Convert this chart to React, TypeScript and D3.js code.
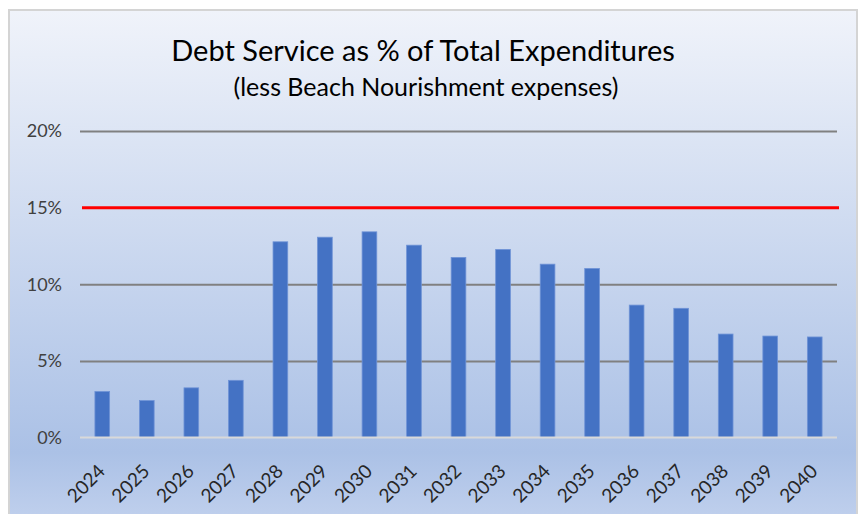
import React, { useEffect, useRef } from 'react'
import { select, scaleLinear, scaleBand, axisLeft, axisBottom } from 'd3'

const years = ['2024', '2025', '2026', '2027', '2028', '2029', '2030', '2031', '2032',
  '2033', '2034', '2035', '2036', '2037', '2038', '2039', '2040']
const debtPct = [3.0, 2.41, 3.24, 3.73, 12.77, 13.07, 13.42, 12.55, 11.75,
  12.27, 11.31, 11.03, 8.64, 8.43, 6.75, 6.62, 6.56]
const yTicks = [0, 5, 10, 15, 20]
const limitPct = 15

const font = 'Lato, "Open Sans", sans-serif'

function App() {
  const ref = useRef<SVGSVGElement>(null)

  useEffect(() => {
    const W = 862, H = 514
    const svg = select(ref.current)
    svg.selectAll('*').remove()
    svg.attr('width', W).attr('height', H)

    const defs = svg.append('defs')
    const grad = defs.append('linearGradient')
      .attr('id', 'bg').attr('x1', 0).attr('y1', 0).attr('x2', 0).attr('y2', 1)
    grad.append('stop').attr('offset', '0%').attr('stop-color', '#f0f3fa')
    grad.append('stop').attr('offset', '85%').attr('stop-color', '#abc1e6')
    grad.append('stop').attr('offset', '100%').attr('stop-color', '#c3d2ee')

    // chart frame
    svg.append('rect')
      .attr('x', 9).attr('y', 10).attr('width', 848).attr('height', 520)
      .attr('fill', 'url(#bg)')
      .attr('stroke', '#d4d4d4').attr('stroke-width', 2)

    const left = 80, right = 837, top = 131, bottom = 437.5

    const x = scaleBand<string>().domain(years).range([left, right]).paddingInner(0.67).paddingOuter(0.335)
    const y = scaleLinear().domain([0, 20]).range([bottom, top])

    // gridlines
    const grid = svg.append('g')
      .attr('transform', `translate(${left},0)`)
      .call(axisLeft(y).tickValues(yTicks.filter(t => t !== 0 && t !== limitPct)).tickSize(-(right - left)).tickFormat(() => ''))
    grid.select('.domain').remove()
    grid.selectAll('line').attr('stroke', '#808080').attr('stroke-width', 2)

    // y labels
    const yAxis = svg.append('g')
      .attr('transform', `translate(${left},0)`)
      .call(axisLeft(y).tickValues(yTicks).tickSize(0).tickPadding(18).tickFormat(d => `${d}%`))
    yAxis.select('.domain').remove()
    yAxis.selectAll('text')
      .attr('fill', '#404040').style('font-family', font).style('font-size', '18px')

    // bars
    svg.append('g').selectAll('rect')
      .data(debtPct)
      .enter()
      .append('rect')
      .attr('x', (d, i) => x(years[i]) as number)
      .attr('y', d => y(d))
      .attr('width', x.bandwidth())
      .attr('height', d => y(0) - y(d))
      .attr('fill', '#4472c4')
      .attr('stroke', '#6f93d6')
      .attr('stroke-width', 0.8)

    // zero axis line
    svg.append('line')
      .attr('x1', left).attr('x2', right)
      .attr('y1', y(0)).attr('y2', y(0))
      .attr('stroke', '#d9d9d9').attr('stroke-width', 2)

    // 15% limit line
    svg.append('line')
      .attr('x1', left + 2).attr('x2', right + 2)
      .attr('y1', y(limitPct)).attr('y2', y(limitPct))
      .attr('stroke', '#ff0000').attr('stroke-width', 3)

    // x labels
    const xAxis = svg.append('g')
      .attr('transform', `translate(0,${bottom})`)
      .call(axisBottom(x).tickSize(0).tickPadding(0))
    xAxis.select('.domain').remove()
    xAxis.selectAll('text')
      .attr('fill', '#262626').style('font-family', font).style('font-size', '19px')
      .attr('text-anchor', 'end')
      .attr('dy', 0)
      .attr('transform', 'translate(4,35) rotate(-45)')

    // titles
    svg.append('text')
      .attr('x', 423).attr('y', 61)
      .attr('text-anchor', 'middle')
      .attr('fill', '#000')
      .style('font-family', font).style('font-size', '29px')
      .text('Debt Service as % of Total Expenditures')
    svg.append('text')
      .attr('x', 426).attr('y', 96)
      .attr('text-anchor', 'middle')
      .attr('fill', '#000')
      .style('font-family', font).style('font-size', '25px')
      .text('(less Beach Nourishment expenses)')
  }, [])

  return <svg ref={ref} style={{ position: 'absolute', left: 0, top: 0 }}></svg>
}

export default App
